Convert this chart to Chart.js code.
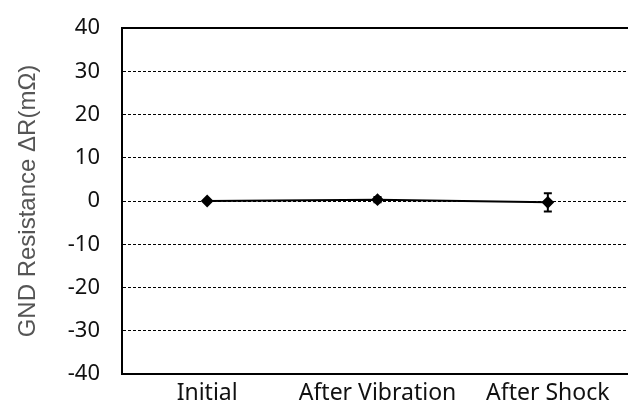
<!DOCTYPE html>
<html>
<head>
<meta charset="utf-8">
<script src="https://cdn.jsdelivr.net/npm/chart.js@4.4.0/dist/chart.umd.min.js"></script>
<style>
  html, body { margin: 0; padding: 0; background: #fff; overflow: hidden; }
  #wrap { width: 640px; height: 400px; }
</style>
</head>
<body>
<div id="wrap"><canvas id="gndChart"></canvas></div>
<script>
const categories = ['Initial', 'After Vibration', 'After Shock'];
const deltaR = [0, 0.3, -0.3];       // mean change, mOhm
const deltaErr = [0.2, 0.6, 2.1];    // +/- spread, mOhm
const yTicks = [-40, -30, -20, -10, 0, 10, 20, 30, 40];

// whiskers with caps, drawn through the y scale
const errorBars = {
    id: 'errorBars',
    afterDatasetsDraw(chart) {
        const ctx = chart.ctx;
        const meta = chart.getDatasetMeta(0);
        const y = chart.scales.y;
        ctx.save();
        ctx.strokeStyle = '#000';
        ctx.lineWidth = 2;
        meta.data.forEach(function(pt, i) {
            const top = y.getPixelForValue(deltaR[i] + deltaErr[i]);
            const bot = y.getPixelForValue(deltaR[i] - deltaErr[i]);
            ctx.beginPath();
            ctx.moveTo(pt.x, top); ctx.lineTo(pt.x, bot);
            ctx.moveTo(pt.x - 4, top); ctx.lineTo(pt.x + 4, top);
            ctx.moveTo(pt.x - 4, bot); ctx.lineTo(pt.x + 4, bot);
            ctx.stroke();
        });
        ctx.restore();
    }
};

// solid line along the top of the plot area
const topEdge = {
    id: 'topEdge',
    beforeDatasetsDraw(chart) {
        const a = chart.chartArea;
        const ctx = chart.ctx;
        ctx.save();
        ctx.strokeStyle = '#000';
        ctx.lineWidth = 2;
        ctx.beginPath();
        ctx.moveTo(a.left, a.top);
        ctx.lineTo(a.right, a.top);
        ctx.stroke();
        ctx.restore();
    }
};

const ctx = document.getElementById('gndChart').getContext('2d');
new Chart(ctx, {
    type: 'line',
    data: {
        labels: categories,
        datasets: [{
            data: deltaR,
            borderColor: '#000',
            backgroundColor: '#000',
            borderWidth: 2,
            pointStyle: 'rectRot',
            pointRadius: 5,
            pointHoverRadius: 5,
            tension: 0
        }]
    },
    options: {
        responsive: true,
        maintainAspectRatio: false,
        animation: false,
        layout: { padding: { top: 28, right: 5, left: 14, bottom: 0 } },
        plugins: {
            legend: { display: false },
            tooltip: { enabled: false }
        },
        scales: {
            x: {
                offset: true,
                afterFit: function(axis) { axis.height = 26; },
                grid: { display: false, drawTicks: false },
                border: { color: '#000', width: 2 },
                ticks: {
                    color: '#111',
                    font: { family: 'Noto Sans', size: 23 },
                    padding: 6
                }
            },
            y: {
                min: -40,
                max: 40,
                afterBuildTicks: function(axis) {
                    axis.ticks = yTicks.map(function(v) { return { value: v }; });
                },
                afterFit: function(axis) {
                    axis.width = 108;
                    // labels may overhang the plot edges; layout padding covers it
                    axis.paddingTop = 0;
                    axis.paddingBottom = 0;
                },
                grid: {
                    color: '#000',
                    lineWidth: 1,
                    drawTicks: false
                },
                border: { color: '#000', width: 2, dash: [3, 2] },
                ticks: {
                    color: '#111',
                    font: { family: 'Noto Sans', size: 22 },
                    padding: 22
                },
                title: {
                    display: true,
                    text: 'GND Resistance ΔR(mΩ)',
                    color: '#555',
                    font: { family: 'Liberation Sans', size: 24 },
                    padding: { top: 0, bottom: 0 }
                }
            }
        }
    },
    plugins: [topEdge, errorBars]
});
</script>
</body>
</html>
